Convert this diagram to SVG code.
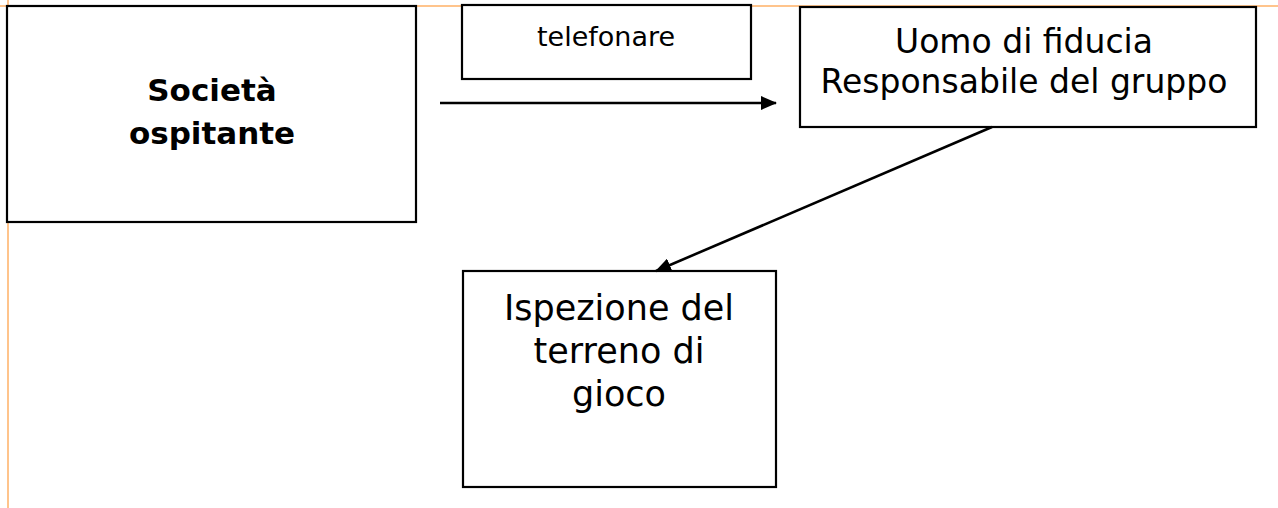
<svg xmlns="http://www.w3.org/2000/svg" width="1278" height="508" viewBox="0 0 1278 508">
<style>
.box{fill:#fff;stroke:#000;stroke-width:2.2}
.t{font-family:"DejaVu Sans","Liberation Sans",sans-serif;fill:#000;text-anchor:middle}
.b{font-weight:bold}
.guide{stroke:#FFC48C;stroke-width:2;fill:none}
.conn{stroke:#000;stroke-width:2.6;fill:none}
</style>
<defs>
<marker id="ah" markerWidth="16" markerHeight="14" refX="15" refY="7" orient="auto" markerUnits="userSpaceOnUse">
<path d="M0,0 L16,7 L0,14 Z" fill="#000"/>
</marker>
</defs>
<g id="guides">
<line class="guide" x1="0" y1="6" x2="1278" y2="6"/>
<line class="guide" x1="8" y1="0" x2="8" y2="508"/>
</g>
<g id="societa">
<rect class="box" x="7" y="6" width="409" height="216"/>
<text class="t b" x="212" y="101" font-size="31">Società</text>
<text class="t b" x="212" y="144" font-size="31">ospitante</text>
</g>
<g id="telefonare">
<rect class="box" x="462" y="5" width="289" height="74"/>
<text class="t" x="606" y="46" font-size="27">telefonare</text>
</g>
<g id="uomo">
<rect class="box" x="800" y="7" width="456" height="120"/>
<text class="t" x="1024" y="53" font-size="33">Uomo di fiducia</text>
<text class="t" x="1024" y="93" font-size="33">Responsabile del gruppo</text>
</g>
<g id="ispezione">
<rect class="box" x="463" y="271" width="313" height="216"/>
<text class="t" x="619" y="320" font-size="35">Ispezione del</text>
<text class="t" x="619" y="363" font-size="35">terreno di</text>
<text class="t" x="619" y="406" font-size="35">gioco</text>
</g>
<g id="connectors">
<line class="conn" x1="440" y1="103" x2="776" y2="103" marker-end="url(#ah)"/>
<line class="conn" x1="992" y1="127" x2="656" y2="271" marker-end="url(#ah)"/>
</g>
</svg>
